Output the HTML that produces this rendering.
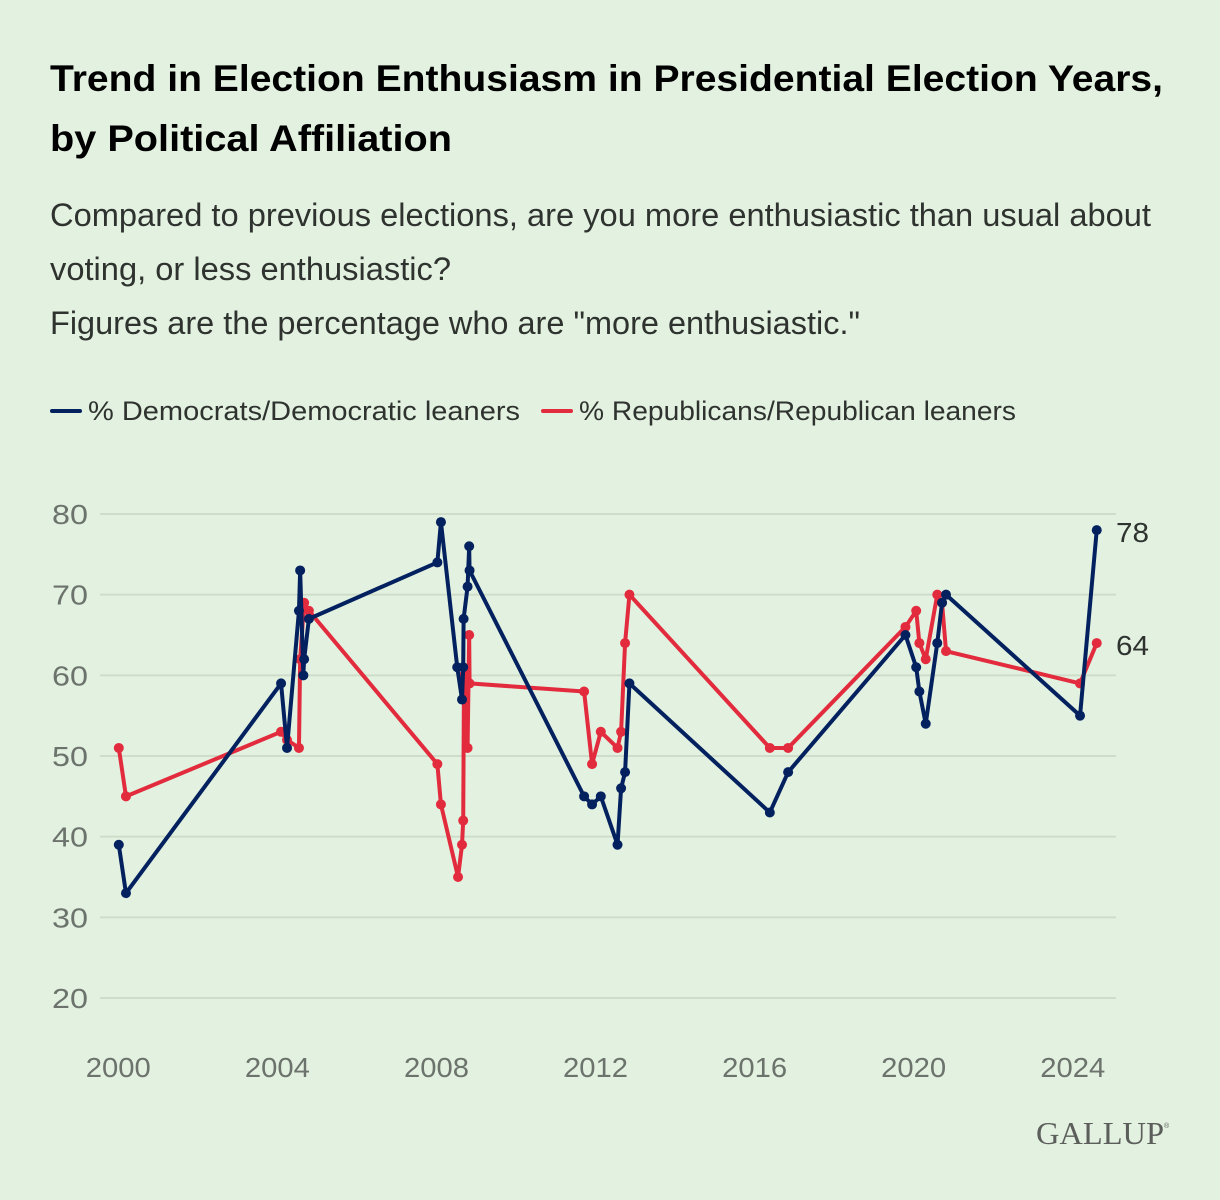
<!DOCTYPE html>
<html lang="en">
<head>
<meta charset="utf-8">
<title>Trend in Election Enthusiasm in Presidential Election Years</title>
<style>
html,body{margin:0;padding:0;background:#e3f1e0;}
body{width:1220px;height:1200px;overflow:hidden;font-family:"Liberation Sans",sans-serif;}
svg{display:block;}
text{font-family:"Liberation Sans",sans-serif;}
</style>
</head>
<body>
<svg id="chart" xmlns="http://www.w3.org/2000/svg" width="1220" height="1200" viewBox="0 0 1220 1200">
  <rect x="0" y="0" width="1220" height="1200" fill="#e3f1e0"/>
  <g fill="#000" font-size="37" font-weight="700">
    <text x="50" y="91" textLength="1113" lengthAdjust="spacingAndGlyphs">Trend in Election Enthusiasm in Presidential Election Years,</text>
    <text x="50" y="151" textLength="402" lengthAdjust="spacingAndGlyphs">by Political Affiliation</text>
  </g>
  <g fill="#2f332f" font-size="32">
    <text x="50" y="226" textLength="1101" lengthAdjust="spacingAndGlyphs">Compared to previous elections, are you more enthusiastic than usual about</text>
    <text x="50" y="280" textLength="401" lengthAdjust="spacingAndGlyphs">voting, or less enthusiastic?</text>
    <text x="50" y="334" textLength="810" lengthAdjust="spacingAndGlyphs">Figures are the percentage who are "more enthusiastic."</text>
  </g>
  <g font-size="27" fill="#2f332f">
    <g>
      <line x1="52" y1="411" x2="80" y2="411" stroke="#03215f" stroke-width="4" stroke-linecap="round"/>
      <text x="88" y="420" textLength="432" lengthAdjust="spacingAndGlyphs">% Democrats/Democratic leaners</text>
    </g>
    <g>
      <line x1="543" y1="411" x2="571" y2="411" stroke="#e32b3e" stroke-width="4" stroke-linecap="round"/>
      <text x="579" y="420" textLength="437" lengthAdjust="spacingAndGlyphs">% Republicans/Republican leaners</text>
    </g>
  </g>
  <g id="grid"></g>
  <g id="yticks"></g>
  <g id="xticks"></g>
  <g id="series"></g>
  <g id="endlabels"></g>
  <g fill="#5b5e5a">
    <text x="1036" y="1144" font-size="32" style="font-family:'Liberation Serif',serif" textLength="128" lengthAdjust="spacingAndGlyphs">GALLUP</text>
    <text x="1164" y="1128" font-size="7">®</text>
  </g>
</svg>
<script>
const yTickValues = [20, 30, 40, 50, 60, 70, 80];
const xTickYears = [2000, 2004, 2008, 2012, 2016, 2020, 2024];

const demDates = [2000.00, 2000.18, 2004.08, 2004.23, 2004.53, 2004.56, 2004.64, 2004.66, 2004.78,
  2008.01, 2008.10, 2008.51, 2008.63, 2008.66, 2008.67, 2008.77, 2008.81, 2008.82,
  2011.70, 2011.90, 2012.12, 2012.54, 2012.63, 2012.73, 2012.84,
  2016.37, 2016.83, 2019.78, 2020.05, 2020.13, 2020.29, 2020.58, 2020.70, 2020.80, 2024.17, 2024.59];
const demValues = [39, 33, 59, 51, 68, 73, 60, 62, 67,
  74, 79, 61, 57, 61, 67, 71, 76, 73,
  45, 44, 45, 39, 46, 48, 59,
  43, 48, 65, 61, 58, 54, 64, 69, 70, 55, 78];

const repDates = [2000.00, 2000.18, 2004.08, 2004.23, 2004.53, 2004.56, 2004.66, 2004.78,
  2008.01, 2008.10, 2008.53, 2008.63, 2008.66, 2008.68, 2008.77, 2008.81, 2008.82,
  2011.70, 2011.90, 2012.12, 2012.54, 2012.63, 2012.73, 2012.84,
  2016.37, 2016.83, 2019.78, 2020.05, 2020.13, 2020.29, 2020.58, 2020.70, 2020.80, 2024.17, 2024.59];
const repValues = [51, 45, 53, 52, 51, 62, 69, 68,
  49, 44, 35, 39, 42, 60, 51, 65, 59,
  58, 49, 53, 51, 53, 64, 70,
  51, 51, 66, 68, 64, 62, 70, 69, 63, 59, 64];

const NS = 'http://www.w3.org/2000/svg';
const xScale = function (year) { return 118.8 + (year - 2000) * 39.77; };
const yScale = function (value) { return 514 + (80 - value) * 8.067; };

function make(tag, attrs, parent) {
  const el = document.createElementNS(NS, tag);
  Object.keys(attrs).forEach(function (k) { el.setAttribute(k, attrs[k]); });
  parent.appendChild(el);
  return el;
}

const grid = document.getElementById('grid');
const yticks = document.getElementById('yticks');
const xticks = document.getElementById('xticks');
const seriesLayer = document.getElementById('series');
const endLabels = document.getElementById('endlabels');

yTickValues.forEach(function (v) {
  const line = make('line', { x1: 100, x2: 1116, y1: yScale(v), y2: yScale(v), stroke: '#cfdcca', 'stroke-width': 2 }, grid);
  
  
  const label = make('text', { x: 52, y: yScale(v) + 10, 'font-size': 28, fill: '#6c736c', textLength: 36, lengthAdjust: 'spacingAndGlyphs' }, yticks);
  label.textContent = String(v);
  
  
});

xTickYears.forEach(function (yr) {
  const label = make('text', { x: xScale(yr) - 33, y: 1077, 'font-size': 28, fill: '#6c736c', textLength: 65, lengthAdjust: 'spacingAndGlyphs' }, xticks);
  label.textContent = String(yr);
  
  
});

function drawSeries(key, dates, values, color) {
  const g = make('g', {}, seriesLayer);
  
  
  const pts = dates.map(function (d, i) { return xScale(d).toFixed(2) + ',' + yScale(values[i]).toFixed(2); }).join(' ');
  const line = make('polyline', { points: pts, fill: 'none', stroke: color, 'stroke-width': 4, 'stroke-linejoin': 'round' }, g);
  
  
  dates.forEach(function (d, i) {
    const c = make('circle', { cx: xScale(d), cy: yScale(values[i]), r: 5, fill: color }, g);
    
    
  });
}

drawSeries('republicans', repDates, repValues, '#e32b3e');
drawSeries('democrats', demDates, demValues, '#03215f');

[demValues[demValues.length - 1], repValues[repValues.length - 1]].forEach(function (v) {
  const label = make('text', { x: 1116, y: yScale(v) + 12, 'font-size': 28, fill: '#2f332f', textLength: 33, lengthAdjust: 'spacingAndGlyphs' }, endLabels);
  label.textContent = String(v);
  
  
});
</script>
</body>
</html>
